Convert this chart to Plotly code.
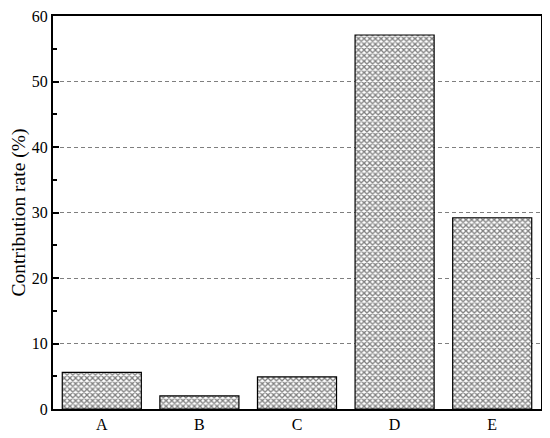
import plotly.graph_objects as go

categories = ["A", "B", "C", "D", "E"]
values = [5.6, 2.0, 4.9, 57.1, 29.2]

fig = go.Figure()
fig.add_trace(go.Bar(
    x=categories, y=values,
    marker=dict(
        color="white",
        line=dict(color="black", width=1.2),
        pattern=dict(shape="x", fgcolor="black", bgcolor="white", size=4, solidity=0.55),
    ),
))

fam = "Liberation Serif, Times New Roman, serif"
font = dict(family=fam, size=16, color="black")
# page body adds an 8px margin; figure sized to fit the 550x438 window
fig.update_layout(
    width=542, height=430,
    margin=dict(l=45, r=9, t=8, b=29),
    plot_bgcolor="white", paper_bgcolor="white",
    bargap=0.19,
    showlegend=False,
    font=font,
)
fig.update_xaxes(
    showline=True, linecolor="black", linewidth=2, mirror=True,
    ticks="", showgrid=False, tickfont=font, automargin=False,
    ticklabeloverflow="allow",
)
fig.update_yaxes(
    range=[0, 60], dtick=10,
    showline=True, linecolor="black", linewidth=2, mirror=True,
    ticks="inside", ticklen=6, tickwidth=2, tickcolor="black",
    minor=dict(ticks="inside", ticklen=4, tickwidth=1.5, tickcolor="black", dtick=5, showgrid=False),
    showgrid=True, gridcolor="#7f7f7f", griddash="4px,3px", gridwidth=1,
    zeroline=False, automargin=False, ticklabeloverflow="allow",
    title=dict(text="Contribution rate (%)", font=dict(family=fam, size=19.5, color="black"), standoff=6),
    tickfont=font,
)
fig.write_html("out.html")
